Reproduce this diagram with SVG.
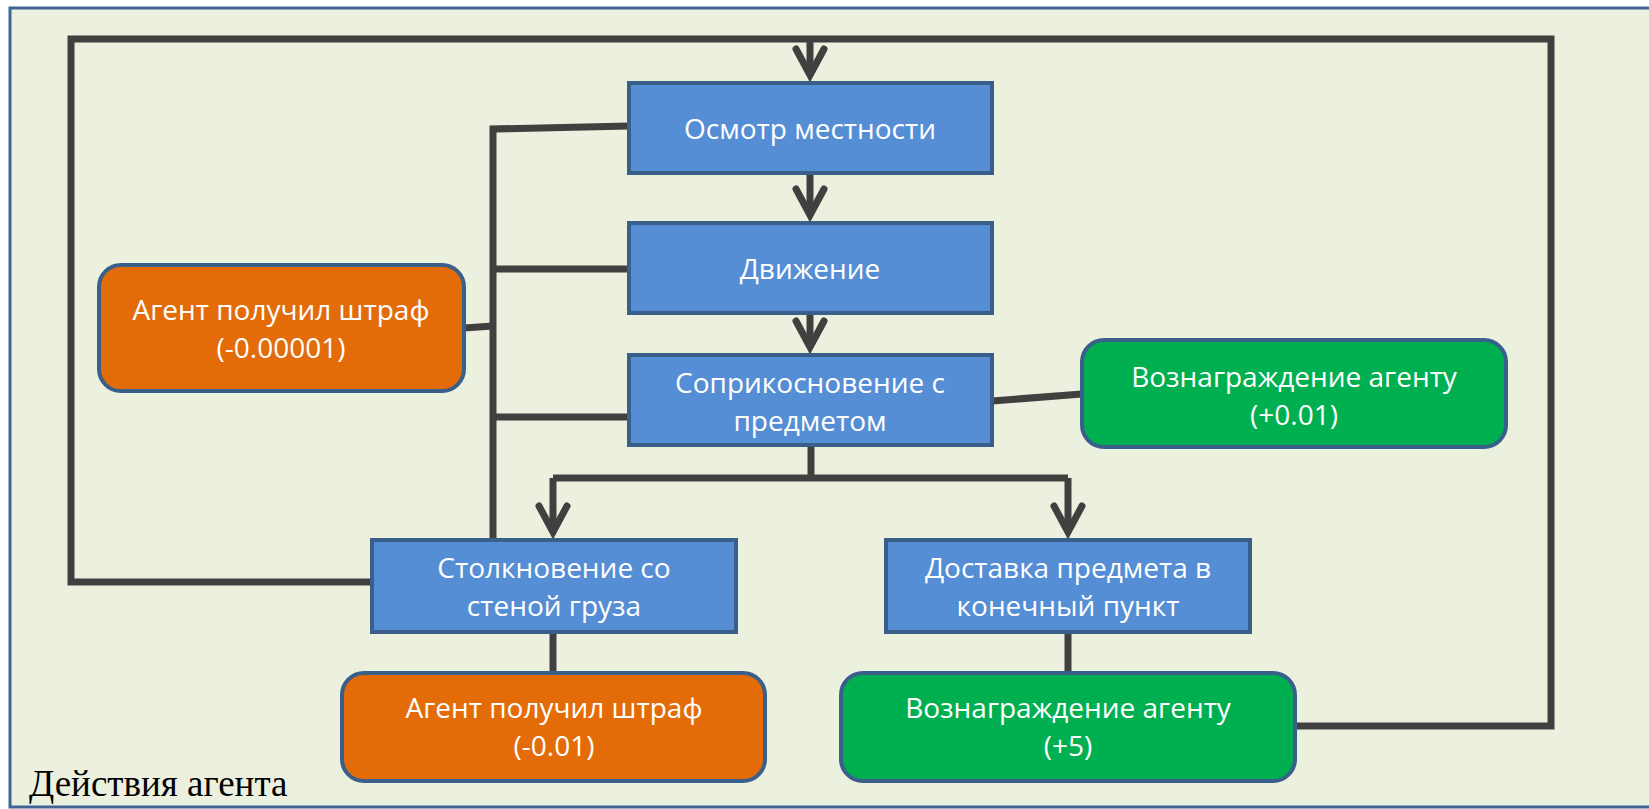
<svg xmlns="http://www.w3.org/2000/svg" width="1649" height="809" viewBox="0 0 1649 809">
<style>
.frame{fill:#EBF1DE;stroke:#3E6596;stroke-width:3}
.blue{fill:#558ED5;stroke:#3A5F8B;stroke-width:4}
.orange{fill:#E36C09;stroke:#3A5F8B;stroke-width:4}
.green{fill:#00B050;stroke:#3A5F8B;stroke-width:4}
.t{font-family:"Open Sans","Noto Sans",sans-serif;font-size:28px;fill:#FFFFFF;text-anchor:middle}
.c{fill:none;stroke:#404040;stroke-width:7;stroke-linejoin:miter}
.title{font-family:"Liberation Serif","Times New Roman",serif;font-size:37px;fill:#000000}
</style>
<defs>
<marker id="ah" markerUnits="userSpaceOnUse" viewBox="-40 -20 50 40" refX="0" refY="0" markerWidth="50" markerHeight="40" orient="auto" overflow="visible">
<path d="M-26,-14 L0,0 L-26,14" fill="none" stroke="#404040" stroke-width="7" stroke-linecap="round" stroke-linejoin="miter" stroke-miterlimit="6"/>
</marker>
</defs>
<rect x="0" y="0" width="1649" height="809" fill="#FFFFFF"/>
<rect class="frame" x="10" y="8" width="1680" height="799"/>
<g id="connectors">
<path class="c" d="M372,582 L71,582 L71,39 L1551,39 L1551,726 L1295,726"/>
<path class="c" d="M810,39 L810,75" marker-end="url(#ah)"/>
<path class="c" d="M810,173 L810,215" marker-end="url(#ah)"/>
<path class="c" d="M810,313 L810,347" marker-end="url(#ah)"/>
<path class="c" d="M629,126 L493,129 L493,540"/>
<path class="c" d="M629,269 L493,269"/>
<path class="c" d="M629,417 L493,417"/>
<path class="c" d="M464,328 L493,326"/>
<path class="c" d="M992,401 L1082,394"/>
<path class="c" d="M811,445 L811,478"/>
<path class="c" d="M553,478 L1068,478"/>
<path class="c" d="M553,478 L553,532" marker-end="url(#ah)"/>
<path class="c" d="M1068,478 L1068,532" marker-end="url(#ah)"/>
<path class="c" d="M553,632 L553,673"/>
<path class="c" d="M1068,632 L1068,673"/>
</g>
<g id="n_osmotr">
<rect class="blue" x="629" y="83" width="363" height="90"/>
<text class="t" x="810" y="139">Осмотр местности</text>
</g>
<g id="n_dvizhenie">
<rect class="blue" x="629" y="223" width="363" height="90"/>
<text class="t" x="810" y="279">Движение</text>
</g>
<g id="n_soprikosnovenie">
<rect class="blue" x="629" y="355" width="363" height="90"/>
<text class="t" x="810" y="393">Соприкосновение с</text>
<text class="t" x="810" y="431">предметом</text>
</g>
<g id="n_penalty1">
<rect class="orange" x="99" y="265" width="365" height="126" rx="22"/>
<text class="t" x="281" y="320">Агент получил штраф</text>
<text class="t" x="281" y="358">(-0.00001)</text>
</g>
<g id="n_reward1">
<rect class="green" x="1082" y="340" width="424" height="107" rx="22"/>
<text class="t" x="1294" y="387">Вознаграждение агенту</text>
<text class="t" x="1294" y="425">(+0.01)</text>
</g>
<g id="n_stolknovenie">
<rect class="blue" x="372" y="540" width="364" height="92"/>
<text class="t" x="554" y="578">Столкновение со</text>
<text class="t" x="554" y="616">стеной груза</text>
</g>
<g id="n_dostavka">
<rect class="blue" x="886" y="540" width="364" height="92"/>
<text class="t" x="1068" y="578">Доставка предмета в</text>
<text class="t" x="1068" y="616">конечный пункт</text>
</g>
<g id="n_penalty2">
<rect class="orange" x="342" y="673" width="423" height="108" rx="22"/>
<text class="t" x="554" y="718">Агент получил штраф</text>
<text class="t" x="554" y="756">(-0.01)</text>
</g>
<g id="n_reward2">
<rect class="green" x="841" y="673" width="454" height="108" rx="22"/>
<text class="t" x="1068" y="718">Вознаграждение агенту</text>
<text class="t" x="1068" y="756">(+5)</text>
</g>
<text class="title" x="29" y="796">Действия агента</text>
</svg>
